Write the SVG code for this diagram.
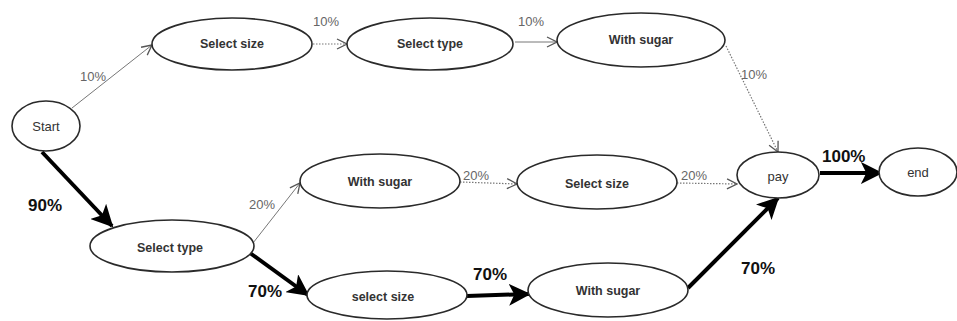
<svg xmlns="http://www.w3.org/2000/svg" width="957" height="321" viewBox="0 0 957 321">
  <style>
    .node ellipse { fill: #fff; stroke: #2a2a2a; stroke-width: 1.6; }
    .node text { font-family: "Liberation Sans", Arial, sans-serif; font-size: 12.5px; font-weight: bold; fill: #333; text-anchor: middle; dominant-baseline: central; }
    .node text.plain { font-weight: normal; font-size: 13px; }
    .thin { stroke: #777; stroke-width: 1; fill: none; marker-end: url(#open); }
    .dot { stroke: #777; stroke-width: 1.2; fill: none; stroke-dasharray: 1.5 1.5; marker-end: url(#open); }
    .thick { stroke: #000; stroke-width: 4; fill: none; marker-end: url(#bold); }
    .lbl { font-family: "Liberation Sans", Arial, sans-serif; font-size: 13px; fill: #666; }
    .big { font-family: "Liberation Sans", Arial, sans-serif; font-size: 17px; font-weight: bold; fill: #111; }
  </style>
  <defs>
    <marker id="open" viewBox="0 0 12 12" refX="11" refY="6" markerWidth="12" markerHeight="12" markerUnits="userSpaceOnUse" orient="auto">
      <path d="M1,1 L11,6 L1,11" fill="none" stroke="#555" stroke-width="1.3"/>
    </marker>
    <marker id="bold" viewBox="0 0 12 12" refX="11" refY="6" markerWidth="5.5" markerHeight="5.5" orient="auto">
      <path d="M0,0 L12,6 L0,12 L3,6 Z" fill="#000"/>
    </marker>
  </defs>

  <g id="connectors">
    <line class="thin" x1="72" y1="108" x2="152" y2="45"/>
    <line class="dot" x1="313" y1="44" x2="347" y2="44"/>
    <line class="thin" x1="515" y1="42" x2="557" y2="42"/>
    <line class="dot" x1="726" y1="46" x2="778" y2="152"/>
    <line class="thick" x1="42" y1="152" x2="112" y2="226"/>
    <line class="thin" x1="253" y1="243" x2="300" y2="183"/>
    <line class="dot" x1="460" y1="182" x2="517" y2="184"/>
    <line class="dot" x1="677" y1="183" x2="737" y2="184"/>
    <line class="thick" x1="250" y1="253" x2="308" y2="295"/>
    <line class="thick" x1="467" y1="296" x2="529" y2="294"/>
    <line class="thick" x1="688" y1="288" x2="778" y2="198"/>
    <line class="thick" x1="820" y1="173" x2="881" y2="173"/>

    <text class="lbl" x="80" y="81">10%</text>
    <text class="lbl" x="313" y="26">10%</text>
    <text class="lbl" x="518" y="26">10%</text>
    <text class="lbl" x="741" y="79">10%</text>
    <text class="lbl" x="249" y="209">20%</text>
    <text class="lbl" x="463" y="180">20%</text>
    <text class="lbl" x="681" y="180">20%</text>
    <text class="big" x="28" y="211">90%</text>
    <text class="big" x="248" y="297">70%</text>
    <text class="big" x="473" y="280">70%</text>
    <text class="big" x="741" y="274">70%</text>
    <text class="big" x="822" y="162">100%</text>
  </g>

  <g id="start" class="node"><ellipse cx="46" cy="126" rx="34" ry="25"/><text class="plain" x="46" y="126">Start</text></g>
  <g id="top-select-size" class="node"><ellipse cx="232" cy="44" rx="80" ry="26"/><text x="232" y="44">Select size</text></g>
  <g id="top-select-type" class="node"><ellipse cx="430" cy="44" rx="83" ry="26"/><text x="430" y="44">Select type</text></g>
  <g id="top-with-sugar" class="node"><ellipse cx="641" cy="40" rx="84" ry="27"/><text x="641" y="40">With sugar</text></g>
  <g id="pay" class="node"><ellipse cx="778" cy="175" rx="41" ry="23"/><text class="plain" x="778" y="176">pay</text></g>
  <g id="end" class="node"><ellipse cx="918" cy="172" rx="39" ry="24"/><text class="plain" x="918" y="172">end</text></g>
  <g id="mid-with-sugar" class="node"><ellipse cx="380" cy="181" rx="80" ry="27"/><text x="380" y="182">With sugar</text></g>
  <g id="mid-select-size" class="node"><ellipse cx="597" cy="182" rx="80" ry="27"/><text x="597" y="184">Select size</text></g>
  <g id="low-select-type" class="node"><ellipse cx="172" cy="246" rx="82" ry="26"/><text x="170" y="248">Select type</text></g>
  <g id="low-select-size" class="node"><ellipse cx="387" cy="295" rx="80" ry="24"/><text x="383" y="297">select size</text></g>
  <g id="low-with-sugar" class="node"><ellipse cx="608" cy="290" rx="80" ry="27"/><text x="608" y="291">With sugar</text></g>
</svg>
